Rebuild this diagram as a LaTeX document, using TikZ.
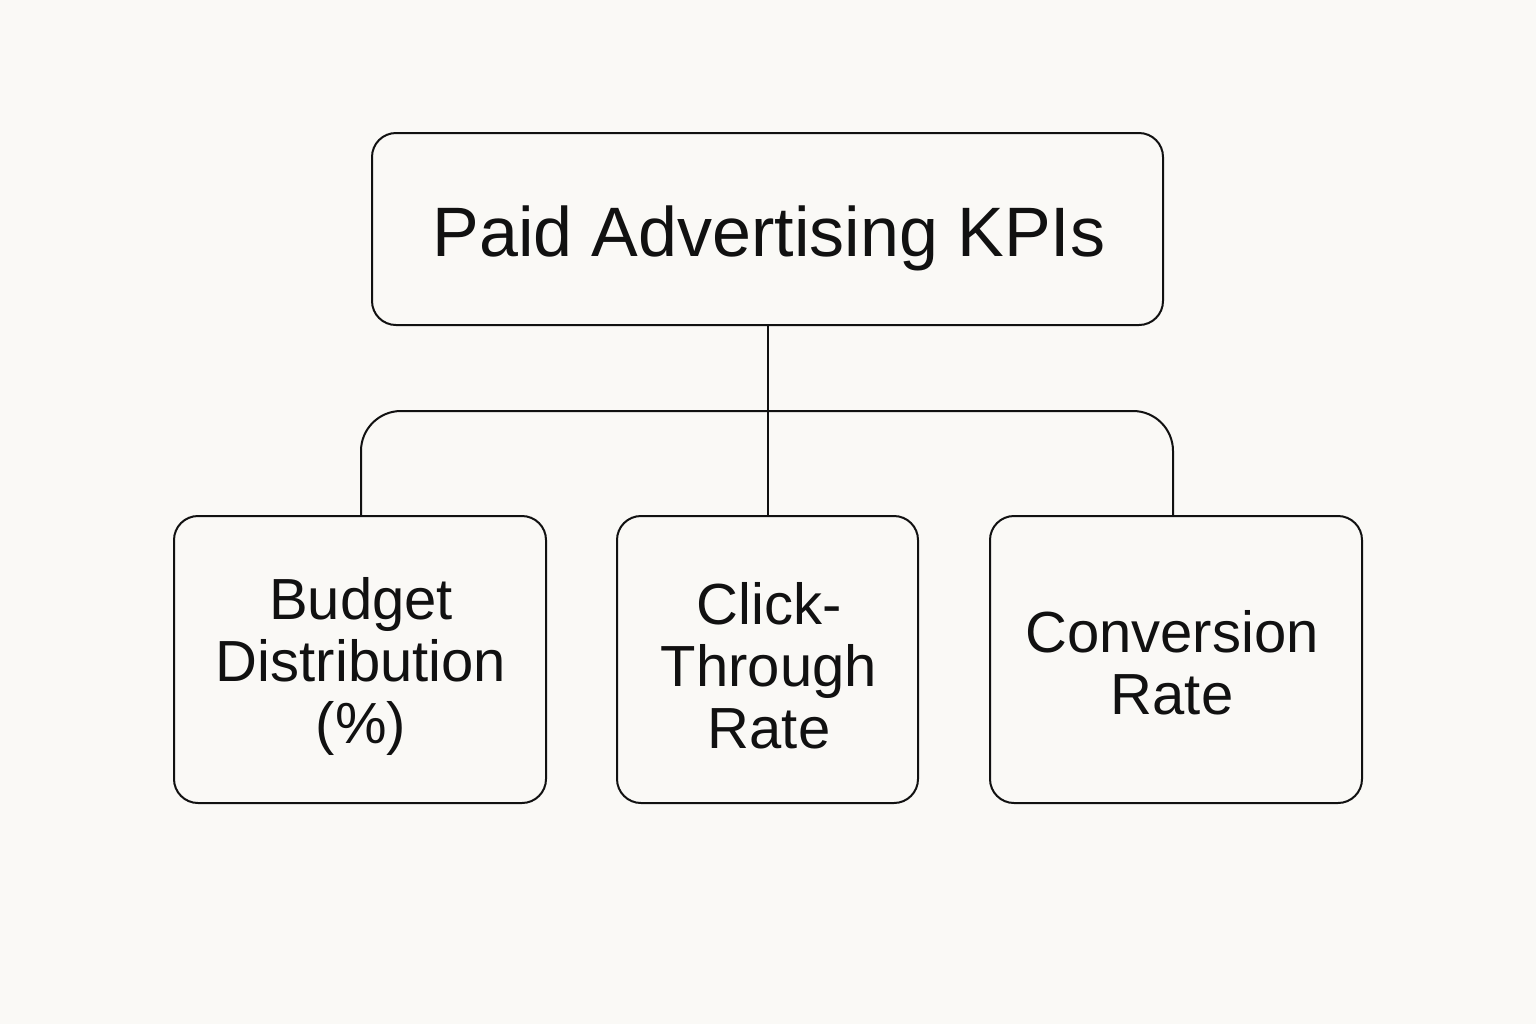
\documentclass[tikz,border=0pt]{standalone}
\usepackage{fontspec}
\setmainfont{Liberation Sans}
\definecolor{bg}{HTML}{FAF9F6}
\definecolor{ink}{HTML}{111111}
\begin{document}
\begin{tikzpicture}[x=0.5pt,y=-0.5pt,
  box/.style={draw=ink,line width=1pt,rounded corners=12pt,inner sep=0pt,align=center,text=ink},
  link/.style={draw=ink,line width=1pt},
  lbl/.style={align=center,text=ink,inner sep=0pt,font=\fontsize{29}{31}\selectfont}]
\fill[bg] (0,0) rectangle (1536,1024);
\useasboundingbox (0,0) rectangle (1536,1024);
\node[box,minimum width=395.5pt,minimum height=96pt] (top) at (767.5,229) {};
\node[text=ink,font=\fontsize{35}{40}\selectfont] (tt) at (769,238) {Paid Advertising KPIs};
\node[box,minimum width=186pt,minimum height=143.5pt] (b1) at (360,659.5) {};
\node[box,minimum width=150.5pt,minimum height=143.5pt] (b2) at (767.5,659.5) {};
\node[box,minimum width=186pt,minimum height=143.5pt] (b3) at (1176,659.5) {};
\node[lbl] (t1) at (361,666) {Budget\\Distribution\\(\%)};
\node[lbl] (t2) at (769,666) {Click-\\Through\\Rate};
\node[lbl] (t3) at (1172,663) {Conversion\\Rate};
\coordinate (l) at (361,411);
\coordinate (r) at (1173,411);
\draw[link] (top.south) -- (b2.north);
\draw[link,rounded corners=20pt] (361,516) -- (l) -- (r) -- (1173,516);
\end{tikzpicture}
\end{document}
